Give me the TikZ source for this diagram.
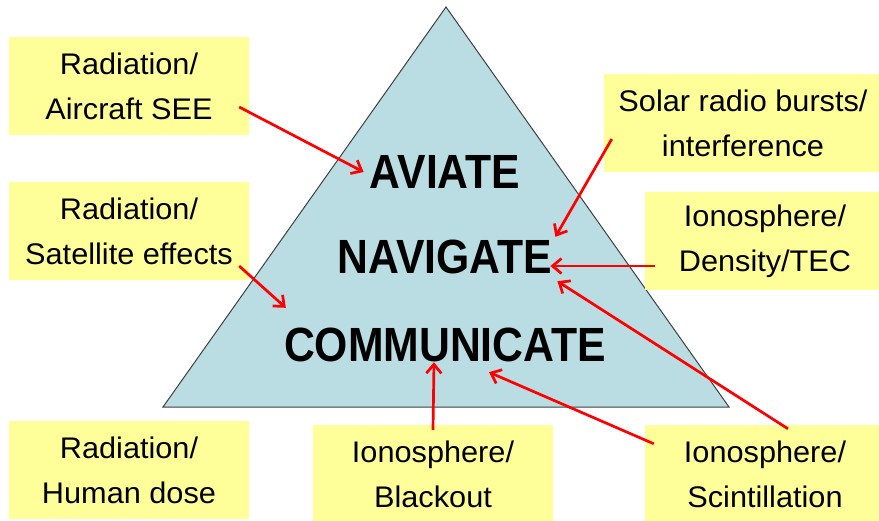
\documentclass[tikz,border=0pt]{standalone}
\usepackage{fontspec}
\setmainfont[FakeStretch=1.03]{Liberation Sans}
\newfontfamily\wordfont[FakeStretch=0.89]{Liberation Sans}
\usepackage{xcolor}
\usepackage{tikz}
\usetikzlibrary{calc,arrows.meta}
\definecolor{pale}{HTML}{FFFF99}
\definecolor{ice}{HTML}{B9DDE2}
\definecolor{rim}{HTML}{404040}
\definecolor{hot}{HTML}{FF0000}
\tikzset{
  tag/.style={fill=pale,align=center,inner sep=0pt,minimum height=98pt,
    font=\fontsize{29.8}{45}\selectfont},
  word/.style={inner sep=3pt,font=\wordfont\bfseries\fontsize{48}{50}\selectfont},
  hit/.style={draw=hot,line width=2.7pt,-{Straight Barb[length=9pt,width=15pt]}}
}

\begin{document}
\begin{tikzpicture}[x=1pt,y=-1pt]
\useasboundingbox (0,0) rectangle (879,520);
\fill[ice,draw=rim,line width=1pt] (163,407)--(446,7)--(729,407)--cycle;
\node[word] (aviate) at (445,172) {AVIATE};
\node[word] (nav) at (445,257) {NAVIGATE};
\node[word] (comm) at (445,345) {COMMUNICATE};
\foreach \nm/\cx/\cy/\bw/\txt in {air/129/86/240/{Radiation/\\Aircraft SEE},
  sat/129/231/240/{Radiation/\\Satellite effects},
  dose/129/470/240/{Radiation/\\Human dose},
  black/433/474/240/{Ionosphere/\\Blackout},
  scint/765/474/240/{Ionosphere/\\Scintillation},
  tec/765/241/240/{Ionosphere/\\Density/TEC},
  solar/743/123/278/{Solar radio bursts/\\interference}}{
  \node[tag,minimum width=\bw pt] (\nm) at (\cx,\cy) {\txt};}
\draw[hit] ([shift={(-10,21)}]air.east) -- ([shift={(-3,0)}]aviate.west);
\draw[hit] ([shift={(-10,35)}]sat.east) -- ([shift={(5,-17)}]comm.north west);
\draw[hit] ([shift={(8,16)}]solar.west) -- (nav.north east);
\draw[hit] ([shift={(10,25)}]tec.west) -- ([shift={(-5,9)}]nav.east);
\draw[hit] ([shift={(23,4)}]scint.north) -- ([shift={(2,4)}]nav.south east);
\draw[hit] ([shift={(9,19)}]scint.north west) -- ([shift={(44,7)}]comm.south);
\draw[hit] ([shift={(0,5)}]black.north) -- ([shift={(-11,-3)}]comm.south);
\end{tikzpicture}
\end{document}
